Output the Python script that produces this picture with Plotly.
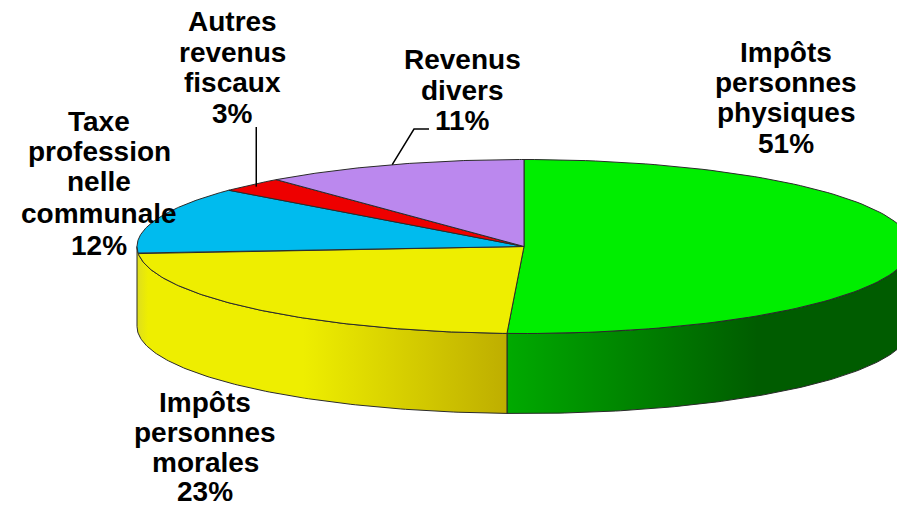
import math
import plotly.graph_objects as go

# ---- data ----
categories = ["Impôts personnes physiques", "Impôts personnes morales",
              "Taxe professionnelle communale", "Autres revenus fiscaux", "Revenus divers"]
values = [50.7, 23.0, 12.49, 2.75, 11.06]
percent_labels = ["51%", "23%", "12%", "3%", "11%"]
top_colors = ["#00EE00", "#EEEE00", "#00BBEE", "#EE0000", "#BB88EE"]

# ---- geometry of the tilted disc, in page pixels ----
W, H = 897, 508
CX, CY, RX, RY, DEPTH = 524, 246.5, 387, 87, 80
LINE = "#2a2a2a"


def pt(frac, dy=0):
    a = 2 * math.pi * frac
    return CX + RX * math.sin(a), CY - RY * math.cos(a) + dy


def arc(f0, f1, dy=0, n=120):
    p = [pt(f0 + (f1 - f0) * i / n, dy) for i in range(n + 1)]
    return [q[0] for q in p], [q[1] for q in p]


total = sum(values)
edges = [0.0]
for v in values:
    edges.append(edges[-1] + v / total)

fig = go.Figure()


def wall(f0, f1, scale):
    x1, y1 = arc(f0, f1, 0)
    x2, y2 = arc(f0, f1, DEPTH)
    fig.add_trace(go.Scatter(
        x=x1 + x2[::-1] + [x1[0]], y=y1 + y2[::-1] + [y1[0]], mode="lines",
        line=dict(color=LINE, width=1), fill="toself",
        fillgradient=dict(type="horizontal", colorscale=scale),
        hoverinfo="skip", showlegend=False))


# side walls: only the front half of the disc is visible
wall(0.25, edges[1], [[0, "rgb(0,170,0)"], [0.62, "rgb(0,92,0)"], [1, "rgb(0,92,0)"]])
wall(edges[1], 0.75, [[0, "rgb(222,222,30)"], [0.03, "rgb(238,238,0)"], [0.45, "rgb(238,238,0)"],
                      [1, "rgb(190,174,0)"]])

# top faces
for i, name in enumerate(categories):
    ax, ay = arc(edges[i], edges[i + 1])
    fig.add_trace(go.Scatter(
        x=[CX] + ax + [CX], y=[CY] + ay + [CY], mode="lines", name=name,
        line=dict(color=LINE, width=1), fill="toself", fillcolor=top_colors[i],
        hoverinfo="skip", showlegend=False))

# leader lines
lx, ly = pt(edges[3] + 0.6 * values[3] / total)
fig.add_trace(go.Scatter(x=[lx, lx], y=[ly + 3, 127], mode="lines",
                         line=dict(color="black", width=1.5), hoverinfo="skip", showlegend=False))
lx, ly = pt(edges[4] + 0.5 * values[4] / total)
fig.add_trace(go.Scatter(x=[lx, 414, 429], y=[ly, 129, 129], mode="lines",
                         line=dict(color="black", width=1.5), hoverinfo="skip", showlegend=False))

# labels, line by line
label_blocks = [
    (786, [52, 82, 112, 143], ["Impôts", "personnes", "physiques", percent_labels[0]]),
    (205, [402, 432, 462, 491], ["Impôts", "personnes", "morales", percent_labels[1]]),
    (99, [121, 151, 181, 213, 245], ["Taxe", "profession", "nelle", "communale", percent_labels[2]]),
    (232, [21, 52, 82, 113], ["Autres", "revenus", "fiscaux", percent_labels[3]]),
    (462, [59, 90, 120], ["Revenus", "divers", percent_labels[4]]),
]
for x, ys, lines in label_blocks:
    for y, t in zip(ys, lines):
        fig.add_annotation(x=x, y=y, text=f"<b>{t}</b>", showarrow=False,
                           xanchor="center", yanchor="middle",
                           font=dict(family="Liberation Sans", size=28, color="black"))

fig.update_layout(
    width=W, height=H, margin=dict(l=0, r=0, t=0, b=0),
    paper_bgcolor="white", plot_bgcolor="white", showlegend=False,
    xaxis=dict(range=[0, W], visible=False, fixedrange=True),
    yaxis=dict(range=[H, 0], visible=False, fixedrange=True),
)
fig.write_html("out.html", config={"displayModeBar": False},
               post_script="document.body.style.margin='0';document.body.style.overflow='hidden';")
